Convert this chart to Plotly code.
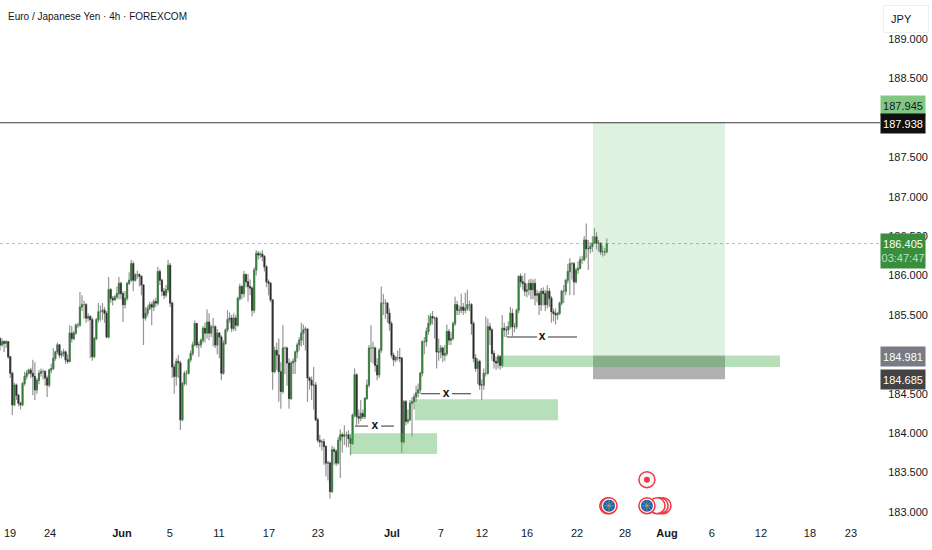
import plotly.graph_objects as go

opens = [
    185.20,185.12,185.16,185.14,185.16,184.97,184.76,184.36,184.61,184.48,
    184.38,184.36,184.63,184.72,184.76,184.80,184.76,184.72,184.55,184.67,
    184.76,184.78,184.78,184.70,184.61,184.80,184.82,184.95,185.03,185.12,
    184.99,185.01,185.03,184.93,184.91,185.27,185.20,185.27,185.37,185.37,
    185.60,185.63,185.63,185.46,185.48,185.44,184.97,185.20,185.44,185.54,
    185.54,185.56,185.52,185.22,185.82,185.71,185.69,185.73,185.77,185.90,
    185.77,185.63,185.71,185.90,185.94,186.15,185.94,186.01,186.01,185.99,
    185.88,185.46,185.52,185.58,185.63,185.60,185.67,185.65,186.05,185.94,
    185.80,185.75,185.82,186.13,185.65,184.84,184.72,184.91,184.89,184.17,
    184.63,184.76,184.76,184.93,185.01,185.12,185.39,185.12,185.12,185.18,
    185.33,185.27,185.41,185.27,185.35,185.35,185.12,185.27,185.22,184.76,
    185.14,185.31,185.44,185.46,185.33,185.46,185.37,185.71,185.86,185.77,
    186.01,185.92,185.86,185.84,185.56,186.07,186.28,186.26,186.27,186.24,
    186.11,185.92,185.90,185.69,184.78,185.05,184.99,184.78,184.53,185.08,
    185.08,184.89,184.44,184.89,184.91,185.03,185.12,185.18,185.27,185.31,
    185.32,184.70,184.67,184.61,184.61,184.17,183.91,183.89,183.89,183.83,
    183.62,183.62,183.26,183.79,183.77,183.62,183.91,183.98,183.96,183.98,
    183.98,183.93,183.87,184.23,184.74,184.21,184.19,184.25,184.21,184.44,
    184.61,185.08,185.08,185.08,184.86,184.74,185.05,185.65,185.65,185.65,
    185.52,185.39,184.99,184.93,184.96,184.96,184.95,183.89,184.40,184.15,
    184.17,184.38,184.40,184.46,184.51,184.55,184.76,185.16,185.16,185.29,
    185.39,185.48,185.46,185.46,185.03,185.03,185.08,184.99,185.01,185.29,
    185.18,185.20,185.39,185.63,185.56,185.56,185.60,185.56,185.58,185.63,
    185.63,185.39,184.95,184.82,184.91,184.61,184.61,184.76,184.76,185.35,
    185.31,185.01,184.91,184.89,184.97,184.86,185.33,185.31,185.31,185.35,
    185.52,185.35,185.35,185.56,185.99,185.92,185.90,185.80,185.82,185.90,
    185.82,185.90,185.75,185.77,185.63,185.80,185.77,185.63,185.80,185.71,
    185.54,185.52,185.50,185.52,185.65,185.80,185.80,185.94,186.05,186.15,
    186.15,185.92,186.07,186.09,186.20,186.20,186.45,186.34,186.34,186.37,
    186.41,186.49,186.41,186.41,186.30,186.30,186.30,
]
highs = [
    185.22,185.20,185.18,185.18,185.16,184.98,184.78,184.64,184.63,184.50,
    184.40,184.65,184.78,184.80,184.82,184.83,184.93,184.90,184.70,184.80,
    184.82,184.81,184.80,184.73,184.82,184.88,185.08,185.05,185.15,185.13,
    185.05,185.07,185.05,185.00,185.37,185.36,185.30,185.39,185.40,185.79,
    185.75,185.68,185.65,185.52,185.50,185.47,185.22,185.46,185.65,185.62,
    185.65,185.60,185.55,185.98,185.84,185.74,185.75,185.86,185.98,185.92,
    185.80,185.80,185.92,186.04,186.20,186.18,186.03,186.06,186.03,186.00,
    185.88,185.60,185.62,185.67,185.66,185.70,185.72,186.11,186.08,185.96,
    185.84,185.88,186.20,186.16,185.67,184.88,184.95,184.99,184.92,184.65,
    184.79,184.80,184.95,185.05,185.16,185.43,185.40,185.16,185.20,185.36,
    185.40,185.57,185.52,185.38,185.46,185.37,185.32,185.28,185.24,185.18,
    185.33,185.56,185.53,185.50,185.52,185.50,185.73,185.90,185.88,186.06,
    186.03,186.02,185.95,185.86,186.10,186.32,186.31,186.30,186.32,186.26,
    186.13,185.95,185.92,185.70,185.10,185.15,185.20,184.90,185.37,185.10,
    185.10,184.95,184.92,184.95,185.05,185.15,185.22,185.40,185.38,185.35,
    185.33,184.72,184.72,184.84,184.65,184.20,183.98,183.92,183.93,183.85,
    183.65,183.64,183.84,183.82,183.80,183.95,184.05,184.01,184.10,184.02,
    184.04,183.98,184.25,184.82,184.76,184.30,184.42,184.30,184.46,184.68,
    185.12,185.37,185.16,185.10,184.95,185.08,185.86,185.77,185.70,185.66,
    185.58,185.42,185.02,184.98,185.05,185.08,184.97,184.42,184.42,184.30,
    184.42,184.46,184.50,184.60,184.63,184.78,185.18,185.22,185.34,185.50,
    185.52,185.55,185.48,185.48,185.20,185.12,185.10,185.12,185.38,185.32,
    185.28,185.42,185.73,185.68,185.62,185.77,185.65,185.78,185.82,185.68,
    185.65,185.42,185.00,184.95,184.93,184.68,184.82,185.48,185.45,185.40,
    185.33,185.05,184.97,185.00,184.99,185.50,185.40,185.36,185.42,185.60,
    185.58,185.40,185.58,186.00,186.03,186.00,186.03,185.90,185.95,185.96,
    185.95,185.96,185.82,185.80,185.84,185.85,185.82,185.88,185.84,185.74,
    185.58,185.58,185.54,185.67,185.82,185.88,185.96,186.15,186.22,186.17,
    186.17,186.10,186.18,186.24,186.25,186.50,186.66,186.45,186.42,186.50,
    186.60,186.55,186.45,186.42,186.38,186.35,186.47,
]
lows = [
    185.05,185.10,185.03,185.08,184.94,184.70,184.23,184.34,184.42,184.34,
    184.30,184.34,184.60,184.68,184.74,184.70,184.48,184.42,184.50,184.62,
    184.72,184.68,184.60,184.46,184.58,184.76,184.80,184.92,185.00,184.95,
    184.95,184.97,184.88,184.88,184.90,185.15,185.18,185.25,185.33,185.35,
    185.55,185.45,185.40,185.42,184.95,184.92,184.95,185.18,185.40,185.42,
    185.44,185.40,185.20,185.20,185.65,185.62,185.68,185.70,185.70,185.70,
    185.41,185.58,185.68,185.88,185.92,185.80,185.92,185.96,185.86,185.75,
    185.12,185.43,185.48,185.56,185.37,185.55,185.60,185.62,185.88,185.74,
    185.70,185.72,185.78,185.60,184.70,184.50,184.60,184.70,184.04,184.15,
    184.60,184.61,184.74,184.90,184.98,185.10,185.08,184.97,185.08,185.14,
    185.15,185.20,185.18,185.22,185.10,185.08,185.00,184.95,184.67,184.74,
    185.12,185.28,185.40,185.28,185.30,185.30,185.35,185.68,185.70,185.72,
    185.85,185.67,185.75,185.48,185.52,186.00,186.20,186.22,186.18,186.05,
    185.85,185.75,185.66,184.55,184.76,184.80,184.40,184.31,184.50,184.75,
    184.60,184.31,184.42,184.75,184.75,184.95,185.05,185.10,185.12,185.05,
    184.40,184.55,184.42,184.30,184.15,183.88,183.82,183.78,183.60,183.45,
    183.40,183.17,183.24,183.60,183.58,183.60,183.43,183.75,183.85,183.82,
    183.82,183.72,183.85,184.20,184.10,184.12,184.15,184.18,184.18,184.42,
    184.58,184.90,184.88,184.78,184.67,184.70,185.02,185.50,185.45,185.40,
    185.30,184.95,184.85,184.90,184.92,184.90,183.75,183.87,184.10,184.12,
    184.15,183.96,184.30,184.40,184.45,184.50,184.72,185.00,185.10,185.25,
    185.36,185.38,185.20,184.82,184.92,184.95,184.90,184.92,184.98,185.12,
    185.12,185.18,185.36,185.50,185.50,185.52,185.50,185.52,185.55,185.55,
    185.25,184.90,184.78,184.62,184.55,184.42,184.55,184.72,184.74,185.12,
    184.92,184.82,184.80,184.82,184.80,184.83,185.22,185.22,185.25,185.32,
    185.23,185.28,185.32,185.52,185.85,185.82,185.74,185.72,185.75,185.70,
    185.70,185.62,185.66,185.50,185.55,185.62,185.55,185.58,185.60,185.40,
    185.42,185.38,185.44,185.50,185.62,185.65,185.75,185.90,185.75,185.95,
    185.75,185.90,186.02,186.08,186.15,186.18,186.22,186.07,186.28,186.30,
    186.40,186.33,186.30,186.26,186.24,186.25,186.28,
]
closes = [
    185.12,185.16,185.14,185.16,184.97,184.76,184.36,184.61,184.48,184.38,
    184.36,184.63,184.72,184.76,184.80,184.76,184.72,184.55,184.67,184.76,
    184.78,184.78,184.70,184.61,184.80,184.82,184.95,185.03,185.12,184.99,
    185.01,185.03,184.93,184.91,185.27,185.20,185.27,185.37,185.37,185.60,
    185.63,185.63,185.46,185.48,185.44,184.97,185.20,185.44,185.54,185.54,
    185.56,185.52,185.22,185.82,185.71,185.69,185.73,185.77,185.90,185.77,
    185.63,185.71,185.90,185.94,186.15,185.94,186.01,186.01,185.99,185.88,
    185.46,185.52,185.58,185.63,185.60,185.67,185.65,186.05,185.94,185.80,
    185.75,185.82,186.13,185.65,184.84,184.72,184.91,184.89,184.17,184.63,
    184.76,184.76,184.93,185.01,185.12,185.39,185.12,185.12,185.18,185.33,
    185.27,185.41,185.27,185.35,185.35,185.12,185.27,185.22,184.76,185.14,
    185.31,185.44,185.46,185.33,185.46,185.37,185.71,185.86,185.77,186.01,
    185.92,185.86,185.84,185.56,186.07,186.28,186.26,186.27,186.24,186.11,
    185.92,185.90,185.69,184.78,185.05,184.99,184.78,184.53,185.08,185.08,
    184.89,184.44,184.89,184.91,185.03,185.12,185.18,185.27,185.31,185.32,
    184.70,184.67,184.61,184.61,184.17,183.91,183.89,183.89,183.83,183.62,
    183.62,183.26,183.79,183.77,183.62,183.91,183.98,183.96,183.98,183.98,
    183.93,183.87,184.23,184.74,184.21,184.19,184.25,184.21,184.44,184.61,
    185.08,185.08,185.08,184.86,184.74,185.05,185.65,185.65,185.65,185.52,
    185.39,184.99,184.93,184.96,184.96,184.95,183.89,184.40,184.15,184.17,
    184.38,184.40,184.46,184.51,184.55,184.76,185.16,185.16,185.29,185.39,
    185.48,185.46,185.46,185.03,185.03,185.08,184.99,185.01,185.29,185.18,
    185.20,185.39,185.63,185.56,185.56,185.60,185.56,185.58,185.63,185.63,
    185.39,184.95,184.82,184.91,184.61,184.61,184.76,184.76,185.35,185.31,
    185.01,184.91,184.89,184.97,184.86,185.33,185.31,185.31,185.35,185.52,
    185.35,185.35,185.56,185.99,185.92,185.90,185.80,185.82,185.90,185.82,
    185.90,185.75,185.77,185.63,185.80,185.77,185.63,185.80,185.71,185.54,
    185.52,185.50,185.52,185.65,185.80,185.80,185.94,186.05,186.15,186.15,
    185.92,186.07,186.09,186.20,186.20,186.45,186.34,186.34,186.37,186.41,
    186.49,186.41,186.41,186.30,186.30,186.30,186.405,
]
bars = list(range(len(closes)))
body_top = [max(o, c) for o, c in zip(opens, closes)]
body_low = [min(o, c) for o, c in zip(opens, closes)]

# x axis is in bars, not dates
x_tick_bars = [4.9, 24.4, 59.5, 82.9, 106.8, 131.2, 155.1, 191.2, 215.1, 235.1, 257.1, 281.5,
               304.9, 325.4, 347.3, 371.2, 395.1, 415.1]
x_tick_text = ["19", "24", "<b>Jun</b>", "5", "11", "17", "23", "<b>Jul</b>", "7", "12", "16", "22",
               "28", "<b>Aug</b>", "6", "12", "18", "23"]
y_ticks = [189.0, 188.5, 188.0, 187.5, 187.0, 186.5, 186.0, 185.5, 185.0, 184.5, 184.0, 183.5, 183.0]
y_tick_text = ["189.000", "188.500", "", "187.500", "187.000", "186.500", "186.000", "185.500", "",
               "184.500", "184.000", "183.500", "183.000"]

target_price = 187.945
line_price = 187.938
last_price = 186.405
entry_price = 184.981
stop_price = 184.685
countdown = "03:47:47"

# (x0, x1, low, high)
zones = [
    (170.7, 213.2, 183.735, 184.0),
    (202.4, 272.2, 184.165, 184.43),
    (244.9, 380.5, 184.84, 184.985),
]
position_x = (289.3, 353.7)

# x marks: line pieces either side of the letter
mark_prices = [184.09, 184.50, 185.22]
mark_centres = [182.9, 217.6, 264.4]
mark_pieces = [
    (173.2, 179.5, 185.9, 192.2),
    (205.4, 214.6, 220.5, 229.8),
    (247.3, 262.0, 267.3, 281.5),
]

event_row_x = [323.4, 322.0, 320.5, 315.6, 296.5, 297.1]
event_row_price = [183.08] * 6
event_flag_x = [315.6, 297.1]
event_flag_price = [183.08, 183.08]
event_top_x = [315.6]
event_top_price = [183.41]

font_name = "Liberation Sans"
text_color = "#131722"

fig = go.Figure()

# wicks and bodies are separate so they can have different colours
fig.add_trace(go.Candlestick(
    x=bars, open=opens, high=highs, low=lows, close=closes, whiskerwidth=0,
    increasing=dict(line=dict(color="#969696", width=1.2), fillcolor="#969696"),
    decreasing=dict(line=dict(color="#969696", width=1.2), fillcolor="#969696"),
    hoverinfo="skip", showlegend=False))
fig.add_trace(go.Candlestick(
    x=bars, open=opens, high=body_top, low=body_low, close=closes, whiskerwidth=0,
    increasing=dict(line=dict(color="#2e7d32", width=0.6), fillcolor="#2e7d32"),
    decreasing=dict(line=dict(color="#2b2b2b", width=0.6), fillcolor="#2b2b2b"),
    hoverinfo="skip", showlegend=False))

for price, centre, piece in zip(mark_prices, mark_centres, mark_pieces):
    fig.add_trace(go.Scatter(
        x=[piece[0], piece[1], None, piece[2], piece[3]], y=[price, price, None, price, price],
        mode="lines", line=dict(color="#333333", width=1), hoverinfo="skip", showlegend=False))
    fig.add_trace(go.Scatter(
        x=[centre], y=[price], mode="text", text=["<b>x</b>"],
        textfont=dict(family=font_name, size=12, color=text_color),
        hoverinfo="skip", showlegend=False))

fig.add_trace(go.Scatter(
    x=event_row_x, y=event_row_price, mode="markers",
    marker=dict(size=16, color="#f5f5f5", line=dict(color="#f23645", width=1.5)),
    hoverinfo="skip", showlegend=False))
fig.add_trace(go.Scatter(
    x=event_flag_x, y=event_flag_price, mode="markers",
    marker=dict(size=12, color="#1c5fae"), hoverinfo="skip", showlegend=False))
fig.add_trace(go.Scatter(
    x=event_flag_x, y=event_flag_price, mode="markers",
    marker=dict(size=9, symbol="asterisk-open", color="#c9b94f", line=dict(color="#b9b45a", width=0.6)),
    hoverinfo="skip", showlegend=False))
fig.add_trace(go.Scatter(
    x=event_top_x, y=event_top_price, mode="markers",
    marker=dict(size=16, color="#f5f5f5", line=dict(color="#f23645", width=1.5)),
    hoverinfo="skip", showlegend=False))
fig.add_trace(go.Scatter(
    x=event_top_x, y=event_top_price, mode="markers",
    marker=dict(size=6, color="#f23645"), hoverinfo="skip", showlegend=False))

shapes = [
    dict(type="rect", xref="x", yref="y", x0=position_x[0], x1=position_x[1], y0=entry_price, y1=target_price,
         fillcolor="rgba(76,175,80,0.18)", line_width=0, layer="above"),
    dict(type="rect", xref="x", yref="y", x0=position_x[0], x1=position_x[1], y0=stop_price, y1=entry_price,
         fillcolor="rgba(90,90,90,0.48)", line_width=0, layer="above"),
    dict(type="line", xref="paper", yref="y", x0=0, x1=1, y0=line_price, y1=line_price,
         line=dict(color="#3a3a3a", width=1), layer="above"),
    dict(type="line", xref="paper", yref="y", x0=0, x1=1, y0=last_price, y1=last_price,
         line=dict(color="#8fd694", width=1, dash="dot"), layer="below"),
]
for x0, x1, low, high in zones:
    shapes.append(dict(type="rect", xref="x", yref="y", x0=x0, x1=x1, y0=low, y1=high,
                       fillcolor="rgba(76,175,80,0.4)", line_width=0, layer="above"))


def price_tag(price, text, bg, fg, height=19, shift=0):
    return dict(xref="paper", yref="y", x=1, y=price, xanchor="left", yanchor="middle", yshift=shift,
                text=text, showarrow=False, width=44, height=height, bgcolor=bg, borderpad=0, align="center",
                font=dict(family=font_name, size=11, color=fg))


annotations = [
    dict(xref="paper", yref="paper", x=0, y=1, xanchor="left", yanchor="top", xshift=6, yshift=-9,
         text="Euro / Japanese Yen · 4h · FOREXCOM", showarrow=False,
         font=dict(family=font_name, size=10, color=text_color)),
    dict(xref="paper", yref="paper", x=1, y=1, xanchor="left", yanchor="top", xshift=3, yshift=-5,
         text="&nbsp;&nbsp;JPY", showarrow=False, width=42, height=24, align="left", bgcolor="#ffffff",
         bordercolor="#eceef2", borderwidth=1, borderpad=1,
         font=dict(family=font_name, size=11, color=text_color)),
    price_tag(target_price, "187.945", "#81c784", text_color, shift=17),
    price_tag(line_price, "187.938", "#0f0f0f", "#ffffff", shift=-1),
    price_tag(last_price, "186.405<br><span style='color:#b9e0bb'>" + countdown + "</span>",
              "#388e3c", "#ffffff", height=34, shift=-7),
    price_tag(entry_price, "184.981", "#787b86", "#ffffff", shift=-1),
    price_tag(stop_price, "184.685", "#434343", "#ffffff"),
]

fig.update_layout(
    width=932, height=550,
    margin=dict(l=0, r=52, t=0, b=25),
    paper_bgcolor="#ffffff", plot_bgcolor="#ffffff",
    shapes=shapes, annotations=annotations, showlegend=False,
    font=dict(family=font_name, size=11, color=text_color),
    xaxis=dict(range=[0, 429.3], tickmode="array", tickvals=x_tick_bars, ticktext=x_tick_text,
               showgrid=False, zeroline=False, showline=False, ticks="", rangeslider=dict(visible=False),
               tickfont=dict(family=font_name, size=11, color=text_color)),
    yaxis=dict(range=[182.835, 189.495], side="right", tickmode="array", tickvals=y_ticks, ticktext=y_tick_text,
               showgrid=False, zeroline=False, showline=False, ticks="outside", ticklen=5, tickcolor="#ffffff",
               tickfont=dict(family=font_name, size=11, color=text_color)),
)

fig.write_html("out.html", config={"displayModeBar": False}, post_script="document.body.style.margin='0';")
